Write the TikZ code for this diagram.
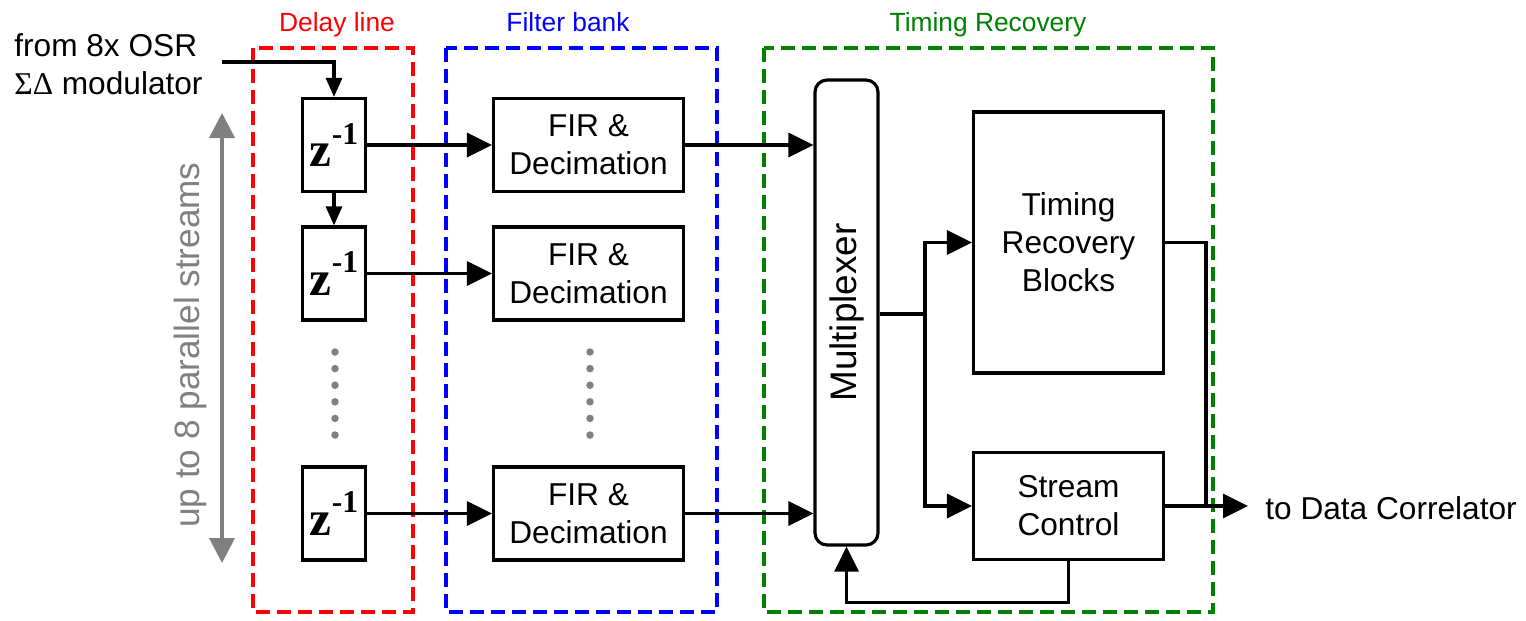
\documentclass[tikz,border=0pt]{standalone}
\usepackage{fontspec}
\setmainfont{Liberation Sans}
\newfontfamily\zfont{Liberation Serif}
\usetikzlibrary{arrows.meta, positioning, calc}

\newcommand{\zterm}{{\zfont\bfseries\fontsize{28}{28}\selectfont z\raisebox{0.45em}{\fontsize{18}{18}\selectfont -1}}}

\tikzset{
  block/.style={draw, rectangle, line width=1.8pt, minimum width=3.8cm, minimum height=1.86cm, align=center, font=\fontsize{18}{21.6}\selectfont},
  zblock/.style={draw, rectangle, line width=1.8pt, minimum width=1.26cm, minimum height=1.86cm, inner sep=0pt},
  group/.style={line width=1.9pt, dash pattern=on 0.28cm off 0.14cm},
  grouplabel/.style={anchor=base, font=\fontsize{15}{18}\selectfont},
  wire/.style={line width=1.8pt},
  sig/.style={wire, -{Triangle[length=0.5cm, width=0.48cm]}},
  sigsmall/.style={wire, -{Triangle[length=0.38cm, width=0.32cm]}},
  dot/.style={circle, fill=gray, inner sep=0pt, minimum size=0.15cm},
}

\begin{document}
\begin{tikzpicture}
    \useasboundingbox (0,0) rectangle (30.52,-12.4);

    % group frames
    \draw[group, red] (5.06,-0.96) rectangle (8.26,-12.24);
    \draw[group, blue] (8.92,-0.96) rectangle (14.34,-12.24);
    \draw[group, green!50!black] (15.28,-0.96) rectangle (24.26,-12.24);
    \node[grouplabel, text=red] (dlabel) at (6.74,-0.62) {Delay line};
    \node[grouplabel, text=blue] (flabel) at (11.36,-0.62) {Filter bank};
    \node[grouplabel, text=green!50!black] (tlabel) at (19.76,-0.62) {Timing Recovery};

    % delay line and filter bank
    \foreach \i/\y in {1/-2.90, 2/-5.47, 3/-10.27} {
        \node[zblock] (z\i) at (6.68,\y) {\zterm};
        \node[block] (fir\i) at (11.77,\y) {FIR \&\\Decimation};
        \draw[sig] (z\i) -- (fir\i);
    }
    \draw[sigsmall] (z1) -- (z2);

    % dots
    \foreach \j in {0,...,5} {
        \node[dot] (dz\j) at (6.70,-7.04-\j*0.332) {};
        \node[dot] (df\j) at (11.80,-7.04-\j*0.332) {};
    }

    % input
    \node[align=left, anchor=west, inner sep=0pt, font=\fontsize{18}{21.6}\selectfont] (src) at (0.28,-1.28)
        {from 8x OSR\\{\zfont ΣΔ} modulator};
    \coordinate (inpt) at (4.44,-1.24);
    \draw[sigsmall] (inpt) -| (z1.north);

    % parallel streams
    \coordinate (stop) at (4.44,-2.26);
    \coordinate (sbot) at (4.44,-11.26);
    \draw[gray, line width=2.2pt, {Triangle[length=0.5cm, width=0.5cm]}-{Triangle[length=0.5cm, width=0.5cm]}] (stop) -- (sbot);
    \node[rotate=90, text=gray, font=\fontsize{20}{24}\selectfont] (streams) at (3.80,-6.9) {up to 8 parallel streams};

    % timing recovery
    \node[draw, rounded corners=0.24cm, line width=1.8pt, minimum width=1.26cm, minimum height=9.3cm] (mux) at (16.93,-6.25) {};
    \node[rotate=90, font=\fontsize{21}{25}\selectfont] (muxtext) at (mux) {Multiplexer};
    \node[block, minimum height=5.22cm] (trb) at (21.37,-4.85) {Timing\\Recovery\\Blocks};
    \node[block, minimum height=2.14cm] (sc) at (21.37,-10.12) {Stream\\Control};

    \draw[sig] (fir1) -- (fir1 -| mux.west);
    \draw[sig] (fir3) -- (fir3 -| mux.west);

    \coordinate (split) at (18.5,-6.28);
    \draw[wire] (mux.east |- split) -- (split);
    \draw[sig] (split) |- (trb);
    \draw[sig] (split) |- (sc);

    % output
    \coordinate (merge) at (24.12,-10.12);
    \coordinate (out) at (24.96,-10.12);
    \draw[wire] (trb) -| (merge);
    \draw[sig] (sc) -- (out);
    \node[anchor=west, inner sep=0pt, font=\fontsize{18}{21.6}\selectfont] (dest) at (25.3,-10.16) {to Data Correlator};

    % feedback
    \draw[sig] (sc.south) -- ++(0,-0.82) -| (mux.south);
\end{tikzpicture}
\end{document}
